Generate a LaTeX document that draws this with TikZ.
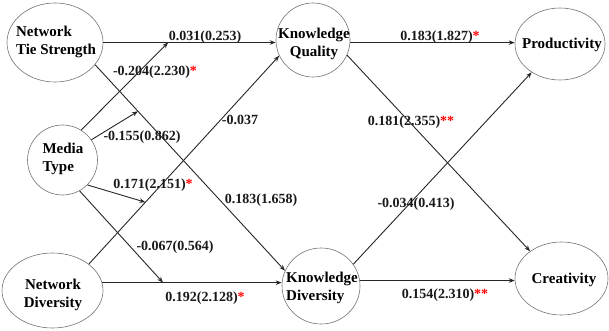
\documentclass[tikz,border=0pt]{standalone}
\usepackage{fontspec}
\setmainfont{Liberation Serif}
\usetikzlibrary{shapes.geometric,arrows.meta,calc}
\begin{document}
\begin{tikzpicture}[x=1pt,y=-1pt,
  var/.style={ellipse,draw=black!55,line width=0.6pt,inner sep=0pt},
  vtext/.style={font=\fontsize{15}{18}\selectfont\bfseries,inner sep=0pt},
  conn/.style={draw=black!85,line width=0.9pt,-{Stealth[length=6pt,width=4.5pt]}},
  coef/.style={font=\fontsize{14}{16}\selectfont\bfseries,inner sep=0pt,text=black!90}]
\useasboundingbox (0,0) rectangle (609,331);
% ellipses
\node[var,minimum width=96,minimum height=79] (nts) at (55,42.5) {};
\node[var,minimum width=70,minimum height=70] (mt) at (62.5,160) {};
\node[var,minimum width=101,minimum height=75] (nd) at (52.5,290.5) {};
\node[var,minimum width=74,minimum height=74] (kq) at (313,40) {};
\node[var,minimum width=78,minimum height=76] (kd) at (321,286) {};
\node[var,minimum width=90,minimum height=72] (prod) at (560,44) {};
\node[var,minimum width=93,minimum height=73] (cre) at (561.5,278.5) {};
% texts
\node[vtext,align=left] (ntst) at (56,42) {Network\\Tie Strength};
\node[vtext,align=left] (mtt) at (63,159) {Media\\Type};
\node[vtext,align=center] (ndt) at (53,295) {Network\\Diversity};
\node[vtext,align=center] (kqt) at (314,44) {Knowledge\\Quality};
\node[vtext,align=left] (kdt) at (322,288) {Knowledge\\Diversity};
\node[vtext] (prodt) at (562,45) {Productivity};
\node[vtext] (cret) at (564,280) {Creativity};
% end coordinates
\coordinate (e1) at (nts.0 -| kq.west);
\coordinate (e8) at (nd.9.5 -| kd.west);
\coordinate (e9) at (kq.-4.6 -| prod.west);
\coordinate (e12) at (kd.8.3 -| cre.west);
% main paths
\draw[conn] (nts.0) -- (e1);
\draw[conn] (nts.-29) -- (kd.157.7);
\draw[conn] (nd.36.3) -- (kq.205.8);
\draw[conn] (nd.9.5) -- (e8);
\draw[conn] (kq.-4.6) -- (e9);
\draw[conn] (kq.-24.7) -- (cre.139);
\draw[conn] (kd.34.1) -- (prod.225);
\draw[conn] (kd.8.3) -- (e12);
% moderating paths
\coordinate (a1) at ($(nts.0)!0.376!(e1)$);
\coordinate (a2) at ($(nts.-29)!0.226!(kd.157.7)$);
\coordinate (a3) at ($(nd.36.3)!0.297!(kq.205.8)$);
\coordinate (a4) at ($(nd.9.5)!0.339!(e8)$);
\draw[conn] (mt.58.7) -- (a1);
\draw[conn] (mt.35.2) -- (a2);
\draw[conn] (mt.-45.5) -- (a3);
\draw[conn] (mt.-61.7) -- (a4);
% coefficients
\node[coef] (c1) at (205,37) {0.031(0.253)};
\node[coef] (c2) at (155,72) {-0.204(2.230)\textcolor{red}{*}};
\node[coef] (c3) at (142,137) {-0.155(0.862)};
\node[coef] (c4) at (261,200) {0.183(1.658)};
\node[coef] (c5) at (240,120) {-0.037};
\node[coef] (c6) at (153,185) {0.171(2.151)\textcolor{red}{*}};
\node[coef] (c7) at (175,247) {-0.067(0.564)};
\node[coef] (c8) at (205,298) {0.192(2.128)\textcolor{red}{*}};
\node[coef] (c9) at (440,37) {0.183(1.827)\textcolor{red}{*}};
\node[coef] (c10) at (411,122) {0.181(2.355)\textcolor{red}{**}};
\node[coef] (c11) at (416,204) {-0.034(0.413)};
\node[coef] (c12) at (445,295) {0.154(2.310)\textcolor{red}{**}};
\end{tikzpicture}
\end{document}
